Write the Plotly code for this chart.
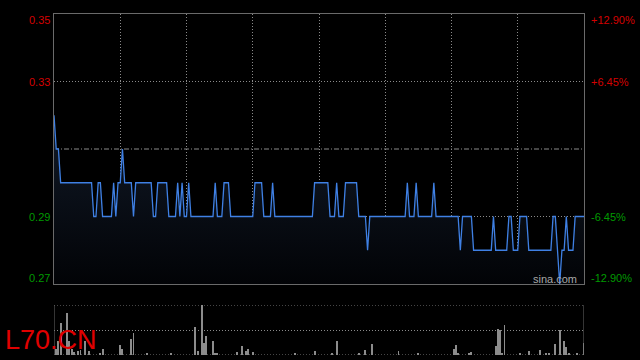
import plotly.graph_objects as go

# ---------------- data ----------------
prev_close = 0.31

# intraday price (one point per trading minute), as (price, number of minutes) runs
price_runs = [
    (0.32, 1), (0.31, 2), (0.30, 15), (0.29, 2), (0.30, 2), (0.29, 5), (0.30, 1),
    (0.29, 1), (0.30, 2), (0.31, 1), (0.30, 4), (0.29, 1), (0.30, 8), (0.29, 2),
    (0.30, 5), (0.29, 4), (0.30, 1), (0.29, 1), (0.30, 1), (0.29, 2), (0.30, 1),
    (0.29, 11), (0.30, 1), (0.29, 3), (0.30, 3), (0.29, 11), (0.30, 4), (0.29, 4),
    (0.30, 1), (0.29, 18), (0.30, 7), (0.29, 3), (0.30, 1), (0.29, 3), (0.30, 6),
    (0.29, 4), (0.28, 1), (0.29, 17), (0.30, 1), (0.29, 3), (0.30, 1), (0.29, 7),
    (0.30, 1), (0.29, 11), (0.28, 1), (0.29, 5), (0.28, 9), (0.29, 1), (0.28, 6),
    (0.29, 2), (0.28, 3), (0.29, 4), (0.28, 11), (0.29, 2), (0.28, 1), (0.27, 1),
    (0.28, 2), (0.29, 1), (0.28, 3), (0.29, 5),
]

# volume bars (minute index, relative volume; tallest = 100)
vol_minute = [1, 2, 3, 6, 7, 8, 9, 11, 12, 14, 16, 21, 22, 30, 31, 35, 36, 42, 53,
              64, 65, 67, 68, 69, 72, 73, 74, 83, 85, 87, 88, 90, 109, 118, 126, 128,
              138, 141, 144, 156, 165, 181, 182, 183, 188, 189, 200, 201, 202, 203,
              204, 211, 215, 220, 223, 224, 227, 229, 231, 232, 233, 237, 240]
vol_value = [13, 29, 65, 85, 29, 13, 7, 8, 10, 29, 9, 5, 13, 21, 13, 33, 45, 3, 3,
             57, 9, 100, 25, 39, 28, 5, 3, 7, 19, 9, 13, 7, 5, 8, 5, 29,
             3, 11, 23, 9, 3, 13, 21, 3, 3, 7, 19, 53, 50, 5,
             61, 5, 9, 11, 3, 3, 23, 51, 29, 17, 3, 3, 25]

left_tick_vals = [0.35, 0.33, 0.29, 0.27]
left_tick_text = ["0.35", "0.33", "0.29", "0.27"]
right_tick_text = ["+12.90%", "+6.45%", "-6.45%", "-12.90%"]
symbol_text = "L70.CN"
watermark_text = "sina.com"

# ---------------- build series ----------------
price = []
for v, n in price_runs:
    price += [v] * n
minutes = list(range(len(price)))
n_min = len(price) - 1

W, H = 640, 360
X0, X1 = 54, 584
MAIN_T, MAIN_B = 14, 284
VOL_T, VOL_B = 305, 355

RED = "#d40000"
GREEN = "#009a00"
LINE = "#3f80e4"
BORDER = "#6a6a6a"
GRID = "#8a8a8a"
DOT = "1px,2px"

fig = go.Figure()

fig.add_trace(go.Scatter(
    x=minutes, y=price, mode="lines",
    line=dict(color=LINE, width=1.3),
    fill="tozeroy",
    fillgradient=dict(type="vertical", start=0.27, stop=0.32,
                      colorscale=[[0, "#020306"], [1, "#111a28"]]),
    xaxis="x", yaxis="y", hoverinfo="skip", showlegend=False,
))

fig.add_trace(go.Bar(
    x=vol_minute, y=vol_value, width=0.45,
    marker=dict(color="#8c8c8c", line=dict(width=0)),
    xaxis="x2", yaxis="y2", hoverinfo="skip", showlegend=False,
))

main_dom = [1 - MAIN_B / H, 1 - MAIN_T / H]
vol_dom = [1 - VOL_B / H, 1 - VOL_T / H]
xdom = [X0 / W, X1 / W]

shapes = [
    # previous close line
    dict(type="line", xref="x", yref="y", x0=0, x1=n_min, y0=prev_close, y1=prev_close,
         line=dict(color="#8a8a8a", width=1, dash="5px,2px,1px,2px"), layer="below"),
    # volume panel frame
    dict(type="line", xref="x2", yref="y2", x0=0, x1=n_min, y0=100, y1=100,
         line=dict(color=GRID, width=1, dash=DOT)),
    dict(type="line", xref="x2", yref="y2", x0=0, x1=n_min, y0=0, y1=0,
         line=dict(color=GRID, width=1, dash=DOT)),
    dict(type="line", xref="x2", yref="y2", x0=0, x1=0, y0=0, y1=100,
         line=dict(color=BORDER, width=1)),
    dict(type="line", xref="x2", yref="y2", x0=n_min, x1=n_min, y0=0, y1=100,
         line=dict(color=BORDER, width=1)),
]

label_py = [20, 82, 216.5, 278]
annotations = []
for v, t, rt, py in zip(left_tick_vals, left_tick_text, right_tick_text, label_py):
    col = RED if v > prev_close else GREEN
    annotations.append(dict(xref="paper", yref="paper", x=51.5 / W, y=1 - py / H,
                            xanchor="right", yanchor="middle", text=t, showarrow=False,
                            font=dict(family="Arial, Liberation Sans", size=11, color=col)))
    annotations.append(dict(xref="paper", yref="paper", x=589 / W, y=1 - py / H,
                            xanchor="left", yanchor="middle", text=rt, showarrow=False,
                            font=dict(family="Arial, Liberation Sans", size=11, color=col)))

annotations.append(dict(xref="paper", yref="paper", x=531 / W, y=1 - 279 / H,
                        xanchor="left", yanchor="middle", text=watermark_text, showarrow=False,
                        font=dict(family="Arial, Liberation Sans", size=11, color="#a8a8a8")))
annotations.append(dict(xref="paper", yref="paper", x=3 / W, y=1 - 340 / H,
                        xanchor="left", yanchor="middle", text=symbol_text, showarrow=False,
                        font=dict(family="Arial, Liberation Sans", size=27, color="#e00000")))

fig.update_layout(
    width=W, height=H,
    margin=dict(l=0, r=0, t=0, b=0),
    paper_bgcolor="#000000", plot_bgcolor="#000000",
    showlegend=False,
    bargap=0,
    xaxis=dict(domain=xdom, range=[0, n_min], anchor="y",
               tickvals=[30, 60, 90, 120, 150, 180, 210], showticklabels=False,
               showgrid=True, gridcolor=GRID, griddash=DOT, gridwidth=1,
               showline=True, linecolor=BORDER, linewidth=1, mirror=True,
               zeroline=False, ticks=""),
    yaxis=dict(domain=main_dom, range=[0.27, 0.35], anchor="x",
               tickvals=[0.29, 0.33], showticklabels=False,
               showgrid=True, gridcolor=GRID, griddash=DOT, gridwidth=1,
               showline=True, linecolor=BORDER, linewidth=1, mirror=True,
               zeroline=False, ticks=""),
    xaxis2=dict(domain=xdom, range=[0, n_min], anchor="y2",
                showticklabels=False, showgrid=False, showline=False,
                zeroline=False, ticks=""),
    yaxis2=dict(domain=vol_dom, range=[0, 100], anchor="x2",
                tickvals=[50], showticklabels=False,
                showgrid=True, gridcolor=GRID, griddash=DOT, gridwidth=1,
                showline=False, zeroline=False, ticks=""),
    shapes=shapes,
    annotations=annotations,
)

fig.write_html("out.html")
